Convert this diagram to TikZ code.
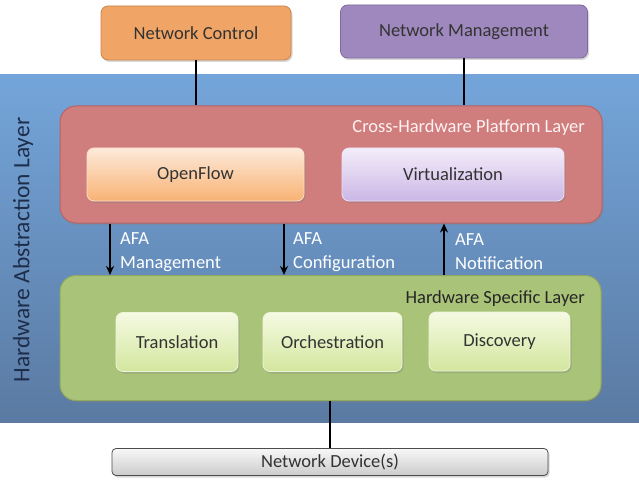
\documentclass[tikz,border=0pt]{standalone}
\usepackage{fontspec}
\setmainfont{Carlito}
\usetikzlibrary{shadows,arrows.meta}
\definecolor{ncfill}{HTML}{F0A466}
\definecolor{ncdraw}{HTML}{C8844C}
\definecolor{nmfill}{HTML}{9E88BE}
\definecolor{nmdraw}{HTML}{7E6AA2}
\definecolor{bgtop}{HTML}{74A5DA}
\definecolor{bgbot}{HTML}{5A7AA2}
\definecolor{redfill}{HTML}{D07D7D}
\definecolor{reddraw}{HTML}{B86364}
\definecolor{grnfill}{HTML}{A9C378}
\definecolor{grndraw}{HTML}{8FA95E}
\definecolor{oftop}{HTML}{FDEADB}
\definecolor{ofbot}{HTML}{F8B273}
\definecolor{vitop}{HTML}{F3EDFA}
\definecolor{vibot}{HTML}{CCB7E6}
\definecolor{gntop}{HTML}{F5FAE2}
\definecolor{gnbot}{HTML}{D3E69E}
\definecolor{txt}{HTML}{333333}
\definecolor{halt}{HTML}{1E2E4A}
\begin{document}
\begin{tikzpicture}[x=1pt,y=-1pt,
  fnt/.style={font=\fontsize{18.5}{24}\selectfont},
  box/.style={draw, rounded corners=7pt, line width=0.8pt, inner sep=0pt, fnt, text=txt},
  shad/.style={drop shadow={shadow xshift=1.5pt, shadow yshift=-2pt, opacity=0.3}},
  layer/.style={draw, rounded corners=16pt, line width=1pt, inner sep=0pt},
  link/.style={line width=2pt, black},
  arr/.style={line width=2pt, black, -{Stealth[length=9pt,width=8pt]}},
  lbl/.style={anchor=west, align=left, text=white, inner sep=0pt, fnt}
]
\useasboundingbox (0,0) rectangle (639,481);
\fill[white] (0,0) rectangle (639,481);
% background (hardware abstraction layer)
\node[anchor=north west, minimum width=639pt, minimum height=348pt, inner sep=0pt,
      top color=bgtop, bottom color=bgbot] (hal) at (0,74) {};
\node[rotate=90, text=halt, font=\fontsize{23.5}{26}\selectfont] (halt) at (23,250) {Hardware Abstraction Layer};
% top boxes
\node[box, shad, fill=ncfill, draw=ncdraw, minimum width=190pt, minimum height=54pt] (nc) at (196,33) {Network Control};
\node[box, shad, fill=nmfill, draw=nmdraw, minimum width=247pt, minimum height=53pt] (nm) at (464,31.5) {Network Management};
% cross hardware layer
\node[layer, shad, fill=redfill, draw=reddraw, minimum width=542pt, minimum height=117pt] (cross) at (331,164.5) {};
\node[anchor=east, text=white!95!red, fnt, inner sep=0pt] (crosst) at (585,128) {Cross-Hardware Platform Layer};
\node[box, shad, top color=oftop, bottom color=ofbot, draw=white!60!ofbot, minimum width=217pt, minimum height=53pt] (of) at (195.5,174.5) {OpenFlow};
\node[box, shad, top color=vitop, bottom color=vibot, draw=white!60!vibot, minimum width=222pt, minimum height=53pt] (vi) at (453,174.5) {Virtualization};
% hardware specific layer
\node[layer, shad, fill=grnfill, draw=grndraw, minimum width=541pt, minimum height=125pt] (hsl) at (330.5,338) {};
\node[anchor=east, text=black!85, fnt, inner sep=0pt] (hslt) at (585,299) {Hardware Specific Layer};
\node[box, shad, top color=gntop, bottom color=gnbot, draw=white!60!gnbot, minimum width=122pt, minimum height=59pt] (tr) at (177,342) {Translation};
\node[box, shad, top color=gntop, bottom color=gnbot, draw=white!60!gnbot, minimum width=139pt, minimum height=59pt] (or) at (332.5,342) {Orchestration};
\node[box, shad, top color=gntop, bottom color=gnbot, draw=white!60!gnbot, minimum width=141pt, minimum height=59pt] (di) at (499.5,341.5) {Discovery};
% device
\node[box, shad, rounded corners=4pt, top color=gray!6, bottom color=gray!40, draw=gray!60!black, minimum width=436pt, minimum height=27pt] (dev) at (330,462) {Network Device(s)};
% links
\draw[link] (nc.south) -- (cross.north -| nc.south);
\draw[link] (nm.south) -- (cross.north -| nm.south);
\coordinate (x1) at (110,0);
\coordinate (x2) at (284,0);
\coordinate (x3) at (444,0);
\coordinate (x4) at (330,0);
\draw[arr] (cross.south -| x1) -- (hsl.north -| x1);
\draw[arr] (cross.south -| x2) -- (hsl.north -| x2);
\draw[arr] (hsl.north -| x3) -- (cross.south -| x3);
\draw[link] (hsl.south -| x4) -- (dev.north -| x4);
% labels
\node[lbl] (l1) at (120,252) {AFA\\Management};
\node[lbl] (l2) at (293,252) {AFA\\Configuration};
\node[lbl] (l3) at (455,252) {AFA\\Notification};
\end{tikzpicture}
\end{document}
